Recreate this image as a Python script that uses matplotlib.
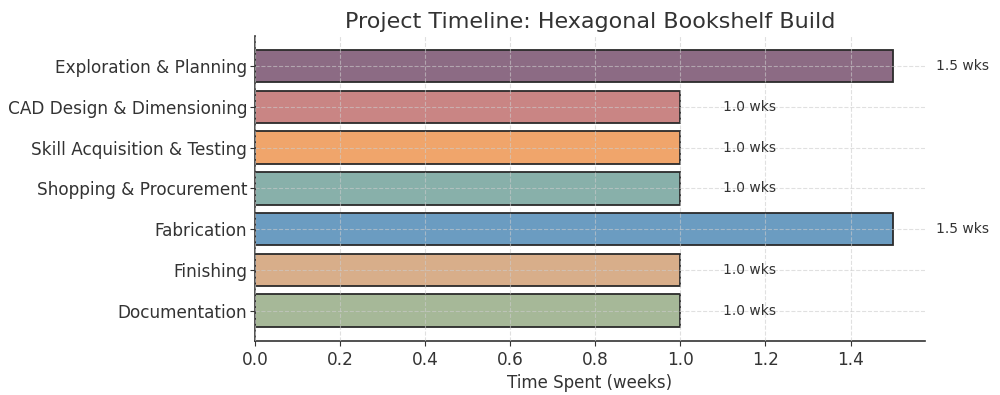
import matplotlib.pyplot as plt

phases = [
    "Exploration & Planning",
    "CAD Design & Dimensioning",
    "Skill Acquisition & Testing",
    "Shopping & Procurement",
    "Fabrication",
    "Finishing",
    "Documentation",
]
weeks = [1.5, 1.0, 1.0, 1.0, 1.5, 1.0, 1.0]
colors = ["#8c6b84", "#c98584", "#f0a56b", "#88b0aa", "#6b9cc1", "#d8ae8a", "#a6b898"]

TEXT = "#333333"
plt.rcParams["font.family"] = "DejaVu Sans"

fig = plt.figure(figsize=(10, 3.95), dpi=100)
ax = fig.add_axes([0.255, 0.137, 0.67, 0.772])

ypos = list(range(len(phases)))[::-1]
ax.barh(ypos, weeks, height=0.8, color=colors, edgecolor="#2b2b2b", linewidth=1.3, zorder=2)
ax.set_yticks(ypos)
ax.set_yticklabels(phases)
ax.set_xlim(0, 1.575)

for y, w in zip(ypos, weeks):
    ax.text(w + 0.1, y, f"{w:.1f} wks", va="center", ha="left", fontsize=10, color=TEXT)

ax.grid(True, linestyle="--", color="#cccccc", linewidth=0.8, alpha=0.6, zorder=3)
ax.set_axisbelow(False)
for s in ["top", "right"]:
    ax.spines[s].set_visible(False)
for s in ["left", "bottom"]:
    ax.spines[s].set_color(TEXT)
    ax.spines[s].set_linewidth(1.2)

ax.tick_params(axis="both", labelsize=12.2, colors=TEXT, length=3.5)
ax.tick_params(axis="y", pad=2)
ax.set_xlabel("Time Spent (weeks)", fontsize=12, color=TEXT)
ax.set_title("Project Timeline: Hexagonal Bookshelf Build", fontsize=16, color=TEXT)

fig.savefig("out.png", dpi=100)
